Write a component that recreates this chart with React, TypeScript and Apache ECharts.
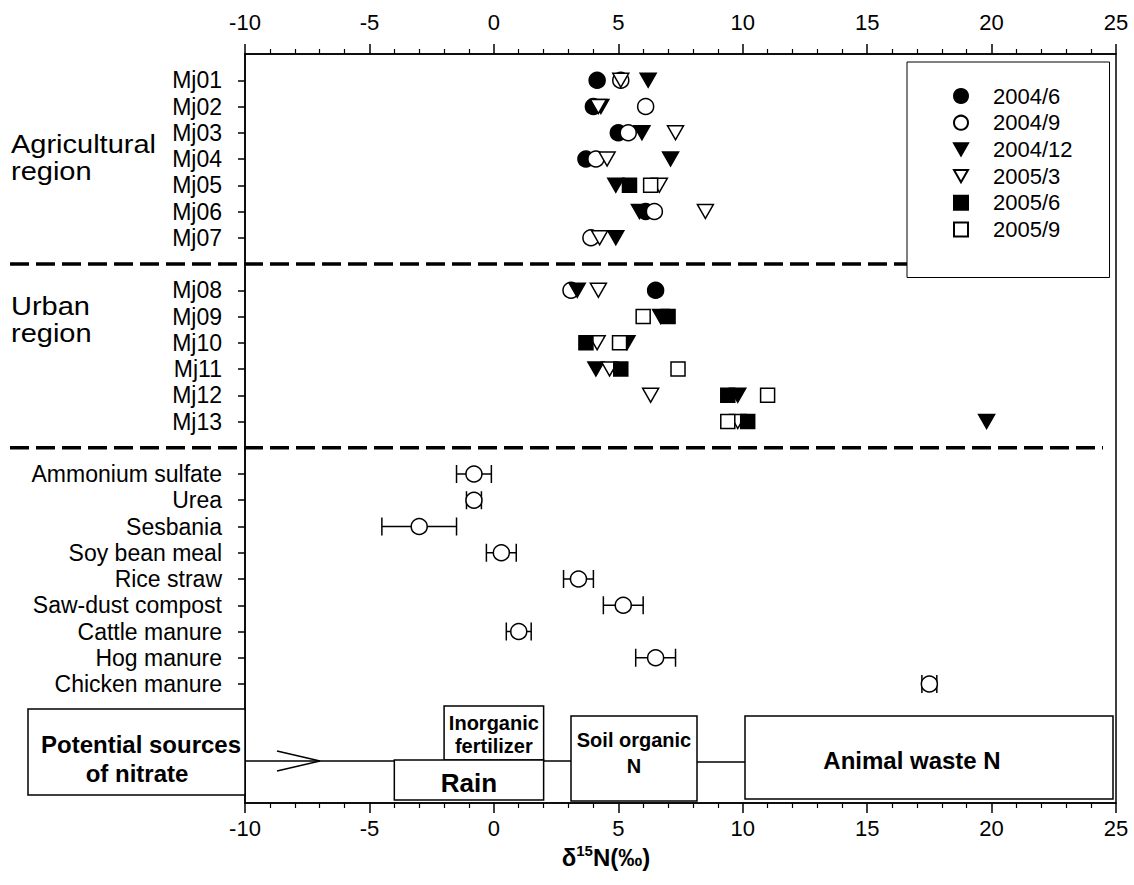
import React, { useEffect, useRef } from "react";
import * as echarts from "echarts";

// ---------- data ----------
const dates = ["2004/6", "2004/9", "2004/12", "2005/3", "2005/6", "2005/9"];
const wells = ["Mj01", "Mj02", "Mj03", "Mj04", "Mj05", "Mj06", "Mj07", "Mj08", "Mj09", "Mj10", "Mj11", "Mj12", "Mj13"];
const wellRows = [1, 2, 3, 4, 5, 6, 7, 9, 10, 11, 12, 13, 14];

// δ15N (‰) per well, one array per sampling date (null = not sampled)
const v2004_6 = [4.15, 4.0, 5.0, 3.7, null, 6.1, null, 6.5, null, null, null, null, null];
const v2004_9 = [5.1, 6.1, 5.4, 4.1, null, 6.45, 3.9, 3.1, null, null, null, null, null];
const v2004_12 = [6.2, 4.3, 5.95, 7.1, 4.9, 5.85, 4.9, 3.35, 6.7, 5.35, 4.1, 9.8, 19.8];
const v2005_3 = [5.1, 4.2, 7.3, 4.55, 6.65, 8.5, 4.25, 4.2, null, 4.15, 4.65, 6.3, 9.8];
const v2005_6 = [null, null, null, null, 5.45, null, null, null, 7.0, 3.7, 5.1, 9.4, 10.2];
const v2005_9 = [null, null, null, null, 6.3, null, null, null, 6.0, 5.05, 7.4, 11.0, 9.4];
const seriesValues = [v2004_6, v2004_9, v2004_12, v2005_3, v2005_6, v2005_9];

const sources = ["Ammonium sulfate", "Urea", "Sesbania", "Soy bean meal", "Rice straw", "Saw-dust compost", "Cattle manure", "Hog manure", "Chicken manure"];
const sourceRows = [16, 17, 18, 19, 20, 21, 22, 23, 24];
const sourceMean = [-0.8, -0.8, -3.0, 0.3, 3.4, 5.2, 1.0, 6.5, 17.5];
const sourceLow = [-1.5, -1.1, -4.5, -0.3, 2.8, 4.4, 0.5, 5.7, 17.2];
const sourceHigh = [-0.1, -0.5, -1.5, 0.9, 4.0, 6.0, 1.5, 7.3, 17.8];

const separatorRows = [8, 15];
const xTicks = { min: -10, max: 25, interval: 5 };

// ---------- layout ----------
const W = 1134;
const H = 885;
const L = 245;
const R = 1116;
const T = 54;
const B = 803;
const ROW_H = 26.25;
const ROW_MAX = (B - T) / ROW_H;
const FONT = "'Liberation Sans', Arial, Helvetica, sans-serif";

const px = (v: number) => L + ((v - xTicks.min) / (xTicks.max - xTicks.min)) * (R - L);
const py = (r: number) => T + r * ROW_H;

const rowLabel: Record<number, string> = {};
wells.forEach((w, i) => (rowLabel[wellRows[i]] = w));
sources.forEach((s, i) => (rowLabel[sourceRows[i]] = s));
const labelRows = [...wellRows, ...sourceRows];

const TRI = "path://M0,0L16,0L8,14Z";
const symbols = [
  { symbol: "circle", size: 16, fill: "#000" },
  { symbol: "circle", size: 16, fill: "#fff" },
  { symbol: TRI, size: [16, 14], fill: "#000" },
  { symbol: TRI, size: [16, 14], fill: "#fff" },
  { symbol: "rect", size: 14, fill: "#000" },
  { symbol: "rect", size: 14, fill: "#fff" },
];

export default function App() {
  const ref = useRef<HTMLDivElement>(null);
  useEffect(() => {
    document.body.style.margin = "0";
    const chart = echarts.init(ref.current!, null, { renderer: "svg" });

    const dateSeries = dates.map((d, k) => ({
      name: d,
      type: "scatter",
      symbol: symbols[k].symbol,
      symbolSize: symbols[k].size,
      itemStyle: { color: symbols[k].fill, borderColor: "#000", borderWidth: 1.5, opacity: 1 },
      data: seriesValues[k]
        .map((v, i) => (v === null ? null : [v, wellRows[i]]))
        .filter((p) => p !== null),
      z: 3 + k * 0.01,
      silent: true,
    }));

    const errData = sources.map((_, i) => [sourceLow[i], sourceRows[i], sourceHigh[i]]);

    const boxStyle = { fill: "#fff", stroke: "#000", lineWidth: 1.5 };
    const lineStyle = { stroke: "#000", lineWidth: 1.5 };
    const boldText = (text: string, x: number, y: number, size: number) => ({
      type: "text",
      x,
      y,
      z: 12,
      style: { text, x: 0, y: 0, fill: "#000", font: `bold ${size}px ${FONT}`, align: "center", verticalAlign: "middle" },
    });
    const regionText = (text: string, y: number) => ({
      type: "text",
      x: 11,
      y,
      scaleX: 1.16,
      style: { text, fill: "#000", font: `25px ${FONT}`, verticalAlign: "middle" },
    });

    const graphic: any[] = [
      // region labels
      regionText("Agricultural", 144),
      regionText("region", 171),
      regionText("Urban", 306),
      regionText("region", 333),
      // dashed separators
      ...separatorRows.map((r) => ({
        type: "line",
        z: 1,
        shape: { x1: 10, y1: py(r), x2: 1103, y2: py(r) },
        style: { stroke: "#000", lineWidth: 3.5, lineDash: [19, 7] },
      })),
      // connectors
      { type: "line", z: 10, shape: { x1: L, y1: 761, x2: px(-4), y2: 761 }, style: lineStyle },
      { type: "line", z: 10, shape: { x1: px(2), y1: 761, x2: 571, y2: 761 }, style: lineStyle },
      { type: "line", z: 10, shape: { x1: 697, y1: 762, x2: 745, y2: 762 }, style: lineStyle },
      { type: "polyline", z: 10, shape: { points: [[277, 751], [320, 761], [277, 771]] }, style: { stroke: "#000", lineWidth: 1.5, fill: null } },
      // boxes
      { type: "rect", z: 11, shape: { x: 28, y: 709, width: L - 28, height: 86 }, style: boxStyle },
      { type: "rect", z: 11, shape: { x: px(-2), y: 706, width: px(2) - px(-2), height: 54 }, style: boxStyle },
      { type: "rect", z: 11, shape: { x: px(-4), y: 760, width: px(2) - px(-4), height: 40 }, style: boxStyle },
      { type: "rect", z: 11, shape: { x: 571, y: 716, width: 126, height: 85 }, style: boxStyle },
      { type: "rect", z: 11, shape: { x: 745, y: 716, width: 368, height: 83 }, style: boxStyle },
      boldText("Potential sources", 141, 744, 24),
      boldText("of nitrate", 137, 773, 24),
      boldText("Inorganic", px(0), 723, 20),
      boldText("fertilizer", px(0), 746, 20),
      boldText("Rain", px(-1), 783, 26),
      boldText("Soil organic", 634, 740, 20),
      boldText("N", 634, 766, 20),
      boldText("Animal waste N", 912, 760, 24),
      // axis title
      {
        type: "text",
        x: 606,
        y: 856,
        style: {
          text: "{a|δ}{s|15}{a|N(‰)}",
          align: "center",
          verticalAlign: "middle",
          rich: {
            a: { font: `bold 24px ${FONT}`, fill: "#000", verticalAlign: "bottom" },
            s: { font: `bold 15px ${FONT}`, fill: "#000", verticalAlign: "top", padding: [0, 0, 11, 0] },
          },
        },
      },
    ];

    const xAxisBase = {
      type: "value",
      min: xTicks.min,
      max: xTicks.max,
      interval: xTicks.interval,
      axisLine: { show: true, onZero: false, lineStyle: { color: "#000", width: 1.5 } },
      axisTick: { show: true, length: 10, lineStyle: { color: "#000", width: 1.5 } },
      minorTick: { show: true, splitNumber: 5, length: 5, lineStyle: { color: "#000", width: 1.2 } },
      splitLine: { show: false },
      axisLabel: { color: "#000", fontSize: 22, fontFamily: FONT },
    };

    chart.setOption({
      animation: false,
      backgroundColor: "#fff",
      grid: { left: L, right: W - R, top: T, bottom: H - B, show: true, borderColor: "#000", borderWidth: 1.5, backgroundColor: "transparent" },
      legend: {
        orient: "vertical",
        left: 907,
        top: 62,
        itemWidth: 14,
        itemHeight: 14,
        itemGap: 4.7,
        padding: [23, 37, 37, 46],
        borderColor: "#000",
        borderWidth: 1,
        backgroundColor: "#fff",
        z: 20,
        data: dates,
        formatter: (n: string) => "{s|}" + n,
        textStyle: { fontSize: 22, color: "#000", fontFamily: FONT, rich: { s: { width: 20 } } },
        selectedMode: false,
      },
      xAxis: [
        { ...xAxisBase, position: "bottom", axisLabel: { ...xAxisBase.axisLabel, margin: 14 } },
        { ...xAxisBase, position: "top", axisLabel: { ...xAxisBase.axisLabel, margin: 21 } },
      ],
      yAxis: {
        type: "value",
        inverse: true,
        min: 0,
        max: ROW_MAX,
        axisLine: { show: true, onZero: false, lineStyle: { color: "#000", width: 1.5 } },
        axisTick: { show: true, length: 7, customValues: labelRows, lineStyle: { color: "#000", width: 1.5 } },
        axisLabel: {
          customValues: labelRows,
          formatter: (v: number) => rowLabel[Math.round(v)] || "",
          color: "#000",
          fontSize: 23,
          fontFamily: FONT,
          margin: 23,
        },
        splitLine: { show: false },
      },
      graphic,
      series: [
        ...dateSeries,
        {
          name: "errorbars",
          type: "custom",
          silent: true,
          z: 4,
          data: errData,
          renderItem: (params: any, api: any) => {
            const r = api.value(1);
            const lo = api.coord([api.value(0), r]);
            const hi = api.coord([api.value(2), r]);
            const st = { stroke: "#000", lineWidth: 1.5 };
            return {
              type: "group",
              children: [
                { type: "line", shape: { x1: lo[0], y1: lo[1], x2: hi[0], y2: hi[1] }, style: st },
                { type: "line", shape: { x1: lo[0], y1: lo[1] - 9, x2: lo[0], y2: lo[1] + 9 }, style: st },
                { type: "line", shape: { x1: hi[0], y1: hi[1] - 9, x2: hi[0], y2: hi[1] + 9 }, style: st },
              ],
            };
          },
        },
        {
          name: "sources",
          type: "scatter",
          silent: true,
          z: 5,
          symbol: "circle",
          symbolSize: 16,
          itemStyle: { color: "#fff", borderColor: "#000", borderWidth: 1.5, opacity: 1 },
          data: sources.map((_, i) => [sourceMean[i], sourceRows[i]]),
        },
      ],
    });
    return () => chart.dispose();
  }, []);
  return <div ref={ref} style={{ width: W, height: H }} />;
}
